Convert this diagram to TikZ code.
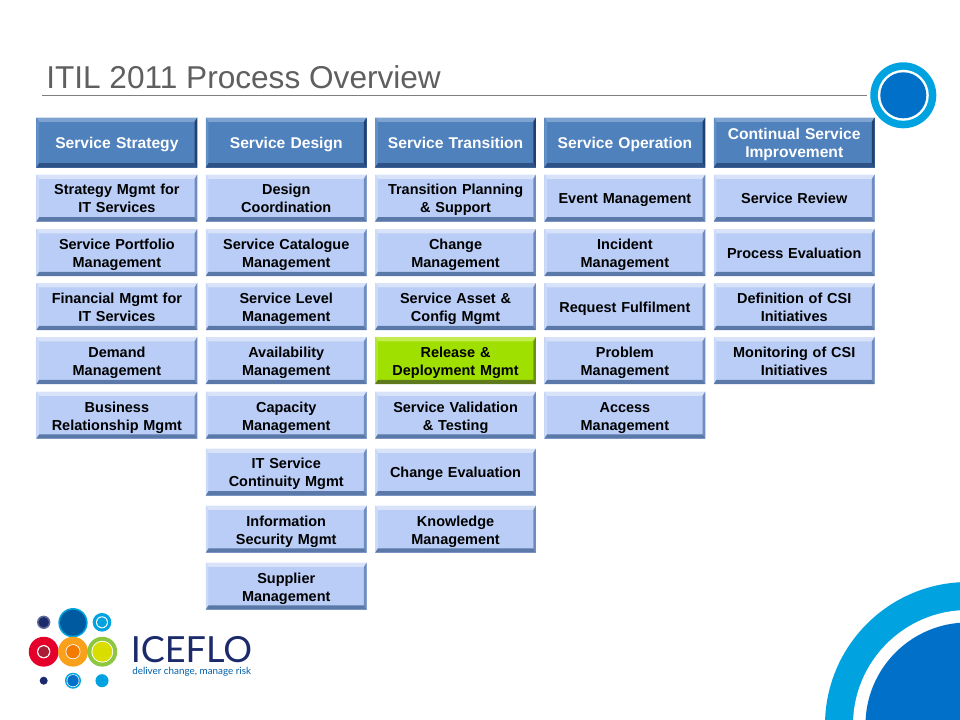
\documentclass[tikz,border=0pt]{standalone}
\usepackage{fontspec}
\setmainfont{Liberation Sans}
\newfontfamily\logofont{Lato}
\usepackage{tikz}
\usetikzlibrary{matrix,positioning}
\definecolor{titlegrey}{HTML}{5F5F5F}
\definecolor{rulegrey}{HTML}{7F7F7F}
\definecolor{iceblue}{HTML}{0070C8}
\definecolor{icecyan}{HTML}{00A3E0}
\definecolor{icenavy}{HTML}{1B2A6B}
\definecolor{logored}{HTML}{E4002B}
\definecolor{logomaroon}{HTML}{A81E32}
\definecolor{logoamber}{HTML}{F9A11B}
\definecolor{logoorange}{HTML}{F47A00}
\definecolor{logogreen}{HTML}{8DC63F}
\definecolor{logolime}{HTML}{D9DD00}
\definecolor{itembase}{HTML}{B9CDF6}
\definecolor{itemtop}{HTML}{D8E3FA}
\definecolor{itemleft}{HTML}{CBDAF8}
\definecolor{itemright}{HTML}{6F8CBC}
\definecolor{itembottom}{HTML}{5A78A8}
\definecolor{headbase}{HTML}{4F81BD}
\definecolor{headtop}{HTML}{7FA3D0}
\definecolor{headleft}{HTML}{6390C6}
\definecolor{headright}{HTML}{23406E}
\definecolor{headbottom}{HTML}{2F5286}
\definecolor{relbase}{HTML}{A0E000}
\definecolor{reltop}{HTML}{C2EC50}
\definecolor{relleft}{HTML}{B0E630}
\definecolor{relright}{HTML}{6E8E14}
\definecolor{relbottom}{HTML}{5E7A1C}
\tikzset{bevel box/.style n args={5}{
    fill=#1,
    minimum width=120.6pt,
    minimum height=35.25pt,
    text width=118pt,
    align=center,
    inner sep=0pt,
    outer sep=0pt,
    execute at begin node=\rule{0pt}{13pt},
    execute at end node=\strut,
    font=\fontsize{10.85}{13.5}\selectfont\bfseries,
    path picture={
      \fill[#2] (path picture bounding box.north west) -- (path picture bounding box.north east)
        -- ++(-2pt,-3.2pt) -- ([shift={(2pt,-3.2pt)}]path picture bounding box.north west) -- cycle;
      \fill[#3] (path picture bounding box.north west) -- (path picture bounding box.south west)
        -- ++(2pt,3.2pt) -- ([shift={(2pt,-3.2pt)}]path picture bounding box.north west) -- cycle;
      \fill[#4] (path picture bounding box.north east) -- (path picture bounding box.south east)
        -- ++(-2pt,3.2pt) -- ([shift={(-2pt,-3.2pt)}]path picture bounding box.north east) -- cycle;
      \fill[#5] (path picture bounding box.south west) -- (path picture bounding box.south east)
        -- ++(-2pt,3.2pt) -- ([shift={(2pt,3.2pt)}]path picture bounding box.south west) -- cycle;
    }
  },
  item box/.style={bevel box={itembase}{itemtop}{itemleft}{itemright}{itembottom}},
  head box/.style={bevel box={headbase}{headtop}{headleft}{headright}{headbottom},
    minimum height=37.5pt, text=white, font=\fontsize{11.7}{14}\selectfont\bfseries},
  release box/.style={bevel box={relbase}{reltop}{relleft}{relright}{relbottom}},
  process matrix/.style={
    matrix of nodes,
    inner sep=0pt, outer sep=0pt,
    column sep=6.4pt, row sep=5.25pt,
    nodes={item box, anchor=center},
    row 1/.style={nodes={head box}}
  }
}
\begin{document}
\begin{tikzpicture}[x=0.75pt,y=-0.75pt]
    \useasboundingbox (0,0) rectangle (960,720);
    \clip (0,0) rectangle (960,720);
    % corner and badge
    \fill[icecyan] (968,725) circle[radius=107.25pt];
    \fill[white] (968,725) circle[radius=86.25pt];
    \fill[iceblue] (968,725) circle[radius=76.9pt];
    \fill[icecyan] (903.3,95.3) circle[radius=24.75pt];
    \fill[white] (903.3,95.3) circle[radius=19.1pt];
    \fill[iceblue] (903.3,95.3) circle[radius=17.25pt];
    % title
    \node[anchor=west, inner sep=0pt, text=titlegrey, font=\fontsize{23.7}{28}\selectfont] (title) at (46,77) {ITIL 2011 Process Overview};
    \coordinate (ruleL) at (42,95.5);
    \coordinate (ruleR) at (867,95.5);
    \draw[rulegrey, line width=0.6pt] (ruleL) -- (ruleR);
    % processes
    \matrix[process matrix, anchor=north west] (procs) at (36.5,117.5) {
        Service Strategy & Service Design & Service Transition & Service Operation & {Continual Service\\ Improvement} \\
        {Strategy Mgmt for\\ IT Services} & {Design\\ Coordination} & {Transition Planning\\ \& Support} & Event Management & Service Review \\[0.4pt]
        {Service Portfolio\\ Management} & {Service Catalogue\\ Management} & {Change\\ Management} & {Incident\\ Management} & Process Evaluation \\
        {Financial Mgmt for\\ IT Services} & {Service Level\\ Management} & {Service Asset \&\\ Config Mgmt} & Request Fulfilment & {Definition of CSI\\ Initiatives} \\
        {Demand\\ Management} & {Availability\\ Management} &|[release box]| {Release \&\\ Deployment Mgmt} & {Problem\\ Management} & {Monitoring of CSI\\ Initiatives} \\[0.4pt]
        {Business\\ Relationship Mgmt} & {Capacity\\ Management} & {Service Validation\\ \& Testing} & {Access\\ Management} & \\[2.2pt]
        & {IT Service\\ Continuity Mgmt} & Change Evaluation & & \\[2.4pt]
        & {Information\\ Security Mgmt} & {Knowledge\\ Management} & & \\[2.2pt]
        & {Supplier\\ Management} & & & \\
    };
    % logo
    \fill[icecyan] (73,622.7) circle[radius=11pt];
    \fill[iceblue!80!black] (73,622.7) circle[radius=9.8pt];
    \fill[icenavy!70!white] (43.7,622.3) circle[radius=5pt];
    \fill[icenavy] (43.7,622.3) circle[radius=3.9pt];
    \fill[icecyan] (102,622.3) circle[radius=7pt];
    \fill[white] (102,622.3) circle[radius=4.5pt];
    \fill[icecyan] (102,622.3) circle[radius=3.8pt];
    \fill[logored] (43.7,651.7) circle[radius=11.2pt];
    \fill[white] (43.7,651.7) circle[radius=5pt];
    \fill[logomaroon] (43.7,651.7) circle[radius=4.2pt];
    \fill[logoamber] (73,651.7) circle[radius=11.2pt];
    \fill[white] (73,651.7) circle[radius=5.6pt];
    \fill[logoorange] (73,651.7) circle[radius=5pt];
    \fill[logogreen] (102.3,651.7) circle[radius=11.2pt];
    \fill[white] (102.3,651.7) circle[radius=8.2pt];
    \fill[logolime] (102.3,651.7) circle[radius=7.5pt];
    \fill[icenavy] (43.7,680.7) circle[radius=3pt];
    \fill[icecyan] (73,680.7) circle[radius=6pt];
    \fill[white] (73,680.7) circle[radius=4.8pt];
    \fill[iceblue] (73,680.7) circle[radius=4.3pt];
    \fill[icecyan] (102,680.7) circle[radius=4.9pt];
    \node[anchor=west, inner sep=0pt, text=icenavy, font=\logofont\fontsize{27}{28}\selectfont] (iceflo) at (130.5,649.5) {ICEFLO};
    \node[anchor=west, inner sep=0pt, text=iceblue!85!black, font=\logofont\fontsize{7.4}{8}\selectfont] (strapline) at (132,672) {deliver change, manage risk};
\end{tikzpicture}
\end{document}
